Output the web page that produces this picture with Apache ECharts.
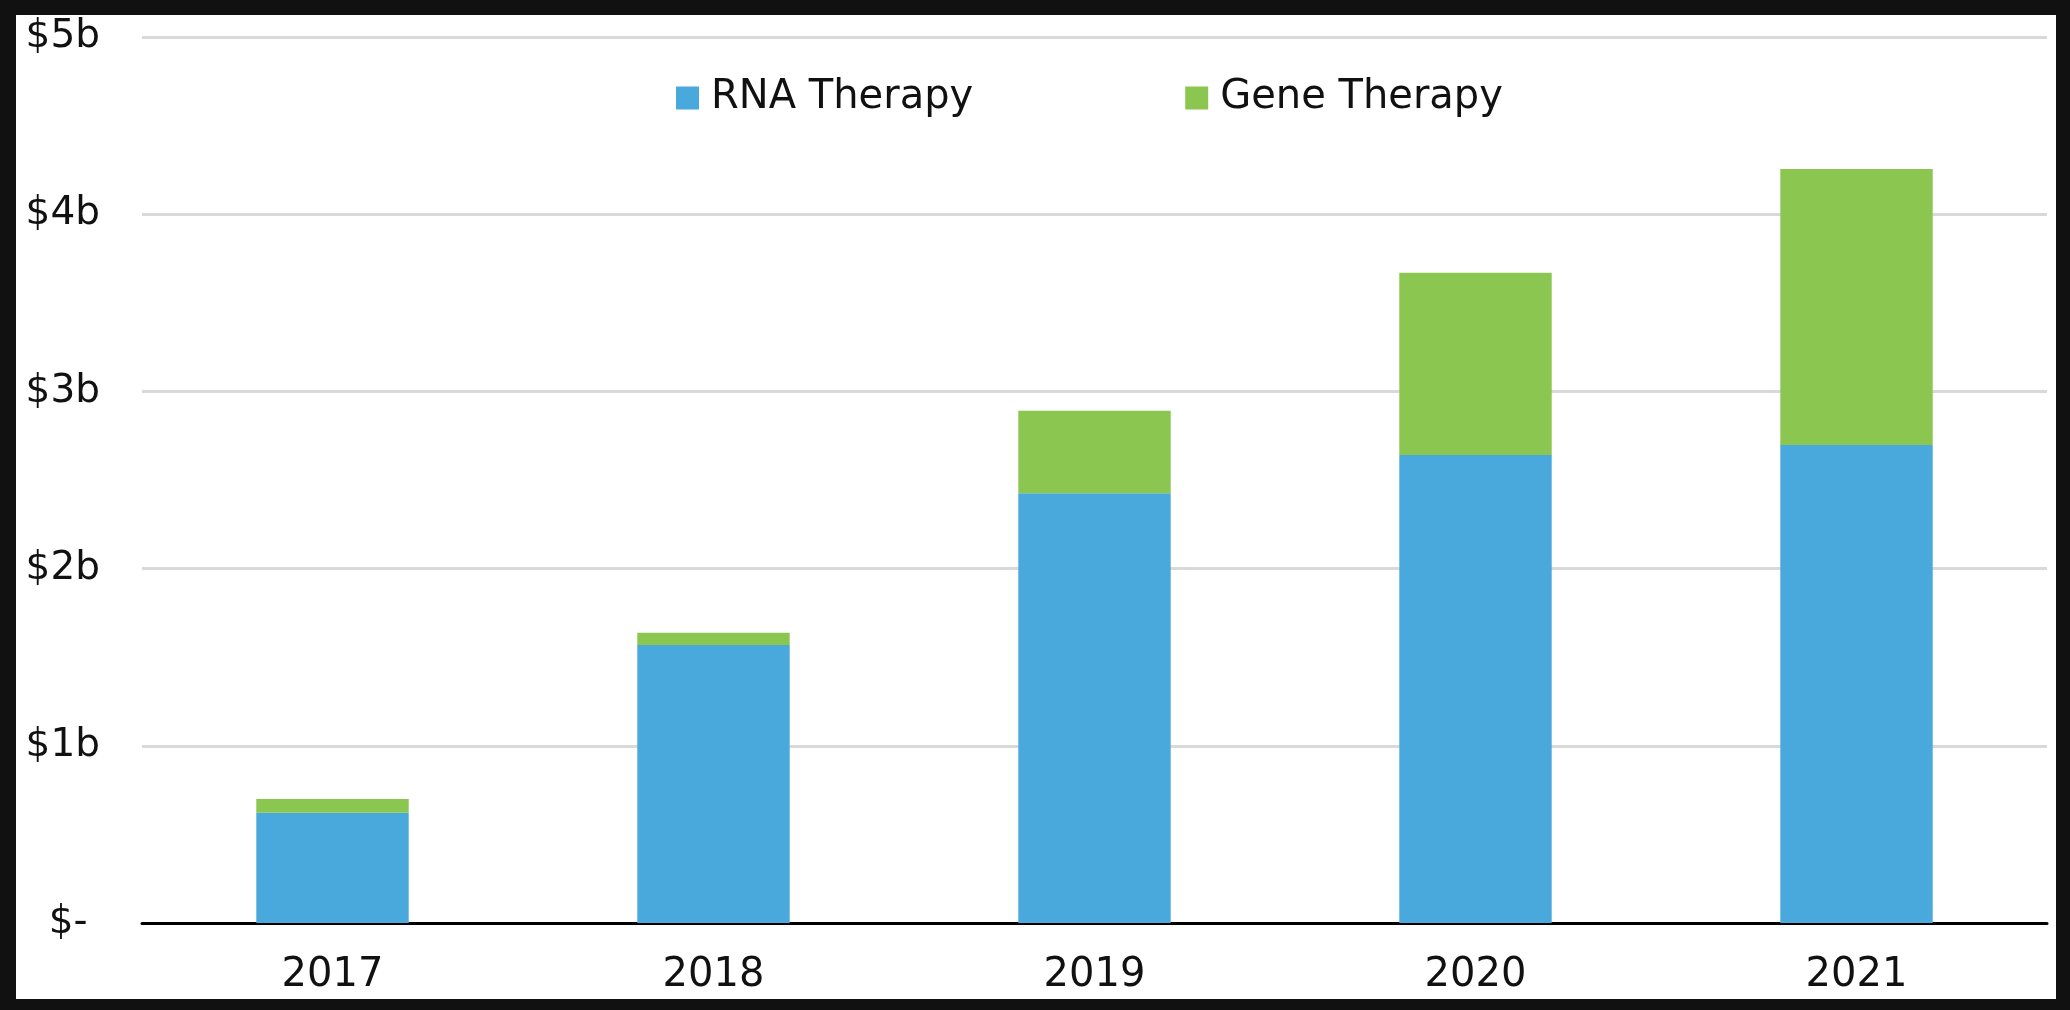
<!DOCTYPE html>
<html>
<head>
<meta charset="utf-8">
<script src="https://cdn.jsdelivr.net/npm/echarts@6/dist/echarts.min.js"></script>
<style>
  html, body { margin: 0; padding: 0; background: #111111; width: 2070px; height: 1010px; overflow: hidden; }
  #chart { position: absolute; left: 16px; top: 15px; width: 2040px; height: 984px; background: #ffffff; }
</style>
</head>
<body>
<div id="chart"></div>
<script>
const categories = ['2017', '2018', '2019', '2020', '2021'];
const rnaTherapy = [0.622, 1.569, 2.425, 2.641, 2.697];
const geneTherapy = [0.078, 0.069, 0.466, 1.029, 1.558];
const seriesNames = ['RNA Therapy', 'Gene Therapy'];
const yTicks = { min: 0, max: 5, interval: 1 };

const FONT = 'DejaVu Sans';
const chart = echarts.init(document.getElementById('chart'), null, { renderer: 'canvas' });
chart.setOption({
  animation: false,
  backgroundColor: '#ffffff',
  color: ['#49A8DC', '#8AC650'],
  legend: {
    left: 655,
    top: 57,
    itemWidth: 23,
    itemHeight: 23,
    itemGap: 212,
    icon: 'rect',
    textStyle: { fontFamily: FONT, fontSize: 40, color: '#111111', padding: [0, 0, 0, 7], lineHeight: 42 },
    data: seriesNames
  },
  grid: { left: 126, right: 9, top: 22, bottom: 76, containLabel: false },
  xAxis: {
    type: 'category',
    data: categories,
    axisLine: { lineStyle: { color: '#000000', width: 3 } },
    axisTick: { show: false },
    axisLabel: { fontFamily: FONT, fontSize: 40, color: '#111111', margin: 33 }
  },
  yAxis: {
    type: 'value',
    min: yTicks.min,
    max: yTicks.max,
    interval: yTicks.interval,
    axisLine: { show: false },
    axisTick: { show: false },
    splitLine: { lineStyle: { color: '#d9d9d9', width: 3 } },
    axisLabel: {
      fontFamily: FONT, fontSize: 39, color: '#111111', margin: 42,
      formatter: v => v === 0 ? '$- ' : '$' + v + 'b'
    }
  },
  series: [
    { name: seriesNames[0], type: 'bar', stack: 'total', barWidth: '40%', data: rnaTherapy },
    { name: seriesNames[1], type: 'bar', stack: 'total', barWidth: '40%', data: geneTherapy }
  ]
});
</script>
</body>
</html>
